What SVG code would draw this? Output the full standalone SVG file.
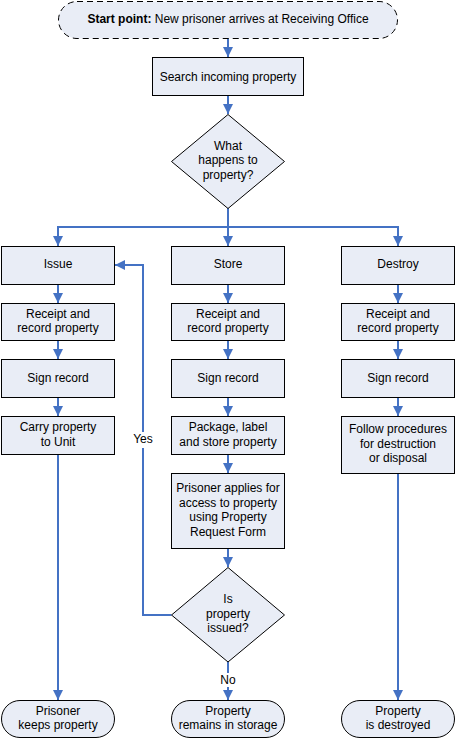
<svg xmlns="http://www.w3.org/2000/svg" width="456" height="739" viewBox="0 0 456 739">
<style>
.box{fill:#E9EDF6;stroke:#000;stroke-width:1}
.start{fill:#E9EDF6;stroke:#000;stroke-width:1;stroke-dasharray:6,4}
.t{font-family:"Liberation Sans",Arial,sans-serif;font-size:12px;fill:#000;text-anchor:middle}
.b{font-weight:bold}
.c{fill:none;stroke:#4472C4;stroke-width:2;marker-end:url(#arr)}
.cn{fill:none;stroke:#4472C4;stroke-width:2}
.lbl{fill:#fff}
</style>
<defs>
<marker id="arr" markerUnits="userSpaceOnUse" markerWidth="10" markerHeight="10" viewBox="0 0 10 10" refX="10" refY="5" orient="auto">
<path d="M0,0 L10,5 L0,10 z" fill="#4472C4"/>
</marker>
</defs>
<rect width="456" height="739" fill="#fff"/>
<g id="connectors">
<path class="c" d="M228,38 V57"/>
<path class="c" d="M228,95.5 V114"/>
<path class="c" d="M228,208 V246"/>
<path class="c" d="M228,227 H58 V246"/>
<path class="c" d="M228,227 H398 V246"/>
<path class="c" d="M58,284.5 V303"/>
<path class="c" d="M58,340.5 V359"/>
<path class="c" d="M58,397.5 V416"/>
<path class="c" d="M58,454.5 V700"/>
<path class="c" d="M228,284.5 V303"/>
<path class="c" d="M228,340.5 V359"/>
<path class="c" d="M228,397.5 V416"/>
<path class="c" d="M228,454.5 V473"/>
<path class="c" d="M228,548.5 V567"/>
<path class="c" d="M228,662 V700"/>
<path class="c" d="M398,284.5 V303"/>
<path class="c" d="M398,340.5 V359"/>
<path class="c" d="M398,397.5 V416"/>
<path class="c" d="M398,473.5 V700"/>
<path class="c" d="M171.5,615 H143 V265 H115"/>
<rect class="lbl" x="131" y="432" width="24" height="16"/>
<text class="t" x="143" y="443">Yes</text>
<rect class="lbl" x="218" y="673" width="20" height="14"/>
<text class="t" x="228" y="684">No</text>
</g>
<g id="start">
<rect class="start" x="58.5" y="1.5" width="339" height="37" rx="18.5"/>
<text class="t" x="228" y="22.5"><tspan class="b">Start point:</tspan> New prisoner arrives at Receiving Office</text>
</g>
<g id="search">
<rect class="box" x="152.5" y="57.5" width="151" height="38"/>
<text class="t" x="228" y="80.5">Search incoming property</text>
</g>
<g id="decision1">
<polygon class="box" points="228,114.5 284.5,161.5 228,208.5 171.5,161.5"/>
<text class="t" x="228" y="150">What</text>
<text class="t" x="228" y="164.3">happens to</text>
<text class="t" x="228" y="178.6">property?</text>
</g>
<g id="issue">
<rect class="box" x="1.5" y="246.5" width="113" height="38"/>
<text class="t" x="58" y="268.3">Issue</text>
</g>
<g id="store">
<rect class="box" x="171.5" y="246.5" width="113" height="38"/>
<text class="t" x="228" y="268.3">Store</text>
</g>
<g id="destroy">
<rect class="box" x="341.5" y="246.5" width="113" height="38"/>
<text class="t" x="398" y="268.3">Destroy</text>
</g>
<g id="receipt1">
<rect class="box" x="1.5" y="303.5" width="113" height="37"/>
<text class="t" x="58" y="318">Receipt and</text>
<text class="t" x="58" y="332.3">record property</text>
</g>
<g id="receipt2">
<rect class="box" x="171.5" y="303.5" width="113" height="37"/>
<text class="t" x="228" y="318">Receipt and</text>
<text class="t" x="228" y="332.3">record property</text>
</g>
<g id="receipt3">
<rect class="box" x="341.5" y="303.5" width="113" height="37"/>
<text class="t" x="398" y="318">Receipt and</text>
<text class="t" x="398" y="332.3">record property</text>
</g>
<g id="sign1">
<rect class="box" x="1.5" y="359.5" width="113" height="38"/>
<text class="t" x="58" y="382">Sign record</text>
</g>
<g id="sign2">
<rect class="box" x="171.5" y="359.5" width="113" height="38"/>
<text class="t" x="228" y="382">Sign record</text>
</g>
<g id="sign3">
<rect class="box" x="341.5" y="359.5" width="113" height="38"/>
<text class="t" x="398" y="382">Sign record</text>
</g>
<g id="carry">
<rect class="box" x="1.5" y="416.5" width="113" height="38"/>
<text class="t" x="58" y="431">Carry property</text>
<text class="t" x="58" y="445.6">to Unit</text>
</g>
<g id="package">
<rect class="box" x="171.5" y="416.5" width="113" height="38"/>
<text class="t" x="228" y="431">Package, label</text>
<text class="t" x="228" y="445.6">and store property</text>
</g>
<g id="follow">
<rect class="box" x="341.5" y="416.5" width="113" height="57"/>
<text class="t" x="398" y="433.3">Follow procedures</text>
<text class="t" x="398" y="447.6">for destruction</text>
<text class="t" x="398" y="462">or disposal</text>
</g>
<g id="applies">
<rect class="box" x="171.5" y="473.5" width="113" height="75"/>
<text class="t" x="228" y="491.6">Prisoner applies for</text>
<text class="t" x="228" y="506.6">access to property</text>
<text class="t" x="228" y="521">using Property</text>
<text class="t" x="228" y="536">Request Form</text>
</g>
<g id="decision2">
<polygon class="box" points="228,567.5 284.5,615 228,662 171.5,615"/>
<text class="t" x="228" y="603.3">Is</text>
<text class="t" x="228" y="618">property</text>
<text class="t" x="228" y="631.6">issued?</text>
</g>
<g id="end1">
<rect class="box" x="1.5" y="700.5" width="113" height="37" rx="18.5"/>
<text class="t" x="58" y="715">Prisoner</text>
<text class="t" x="58" y="729.3">keeps property</text>
</g>
<g id="end2">
<rect class="box" x="171.5" y="700.5" width="113" height="37" rx="18.5"/>
<text class="t" x="228" y="715">Property</text>
<text class="t" x="228" y="729.3">remains in storage</text>
</g>
<g id="end3">
<rect class="box" x="341.5" y="700.5" width="113" height="37" rx="18.5"/>
<text class="t" x="398" y="715">Property</text>
<text class="t" x="398" y="729.3">is destroyed</text>
</g>
</svg>
